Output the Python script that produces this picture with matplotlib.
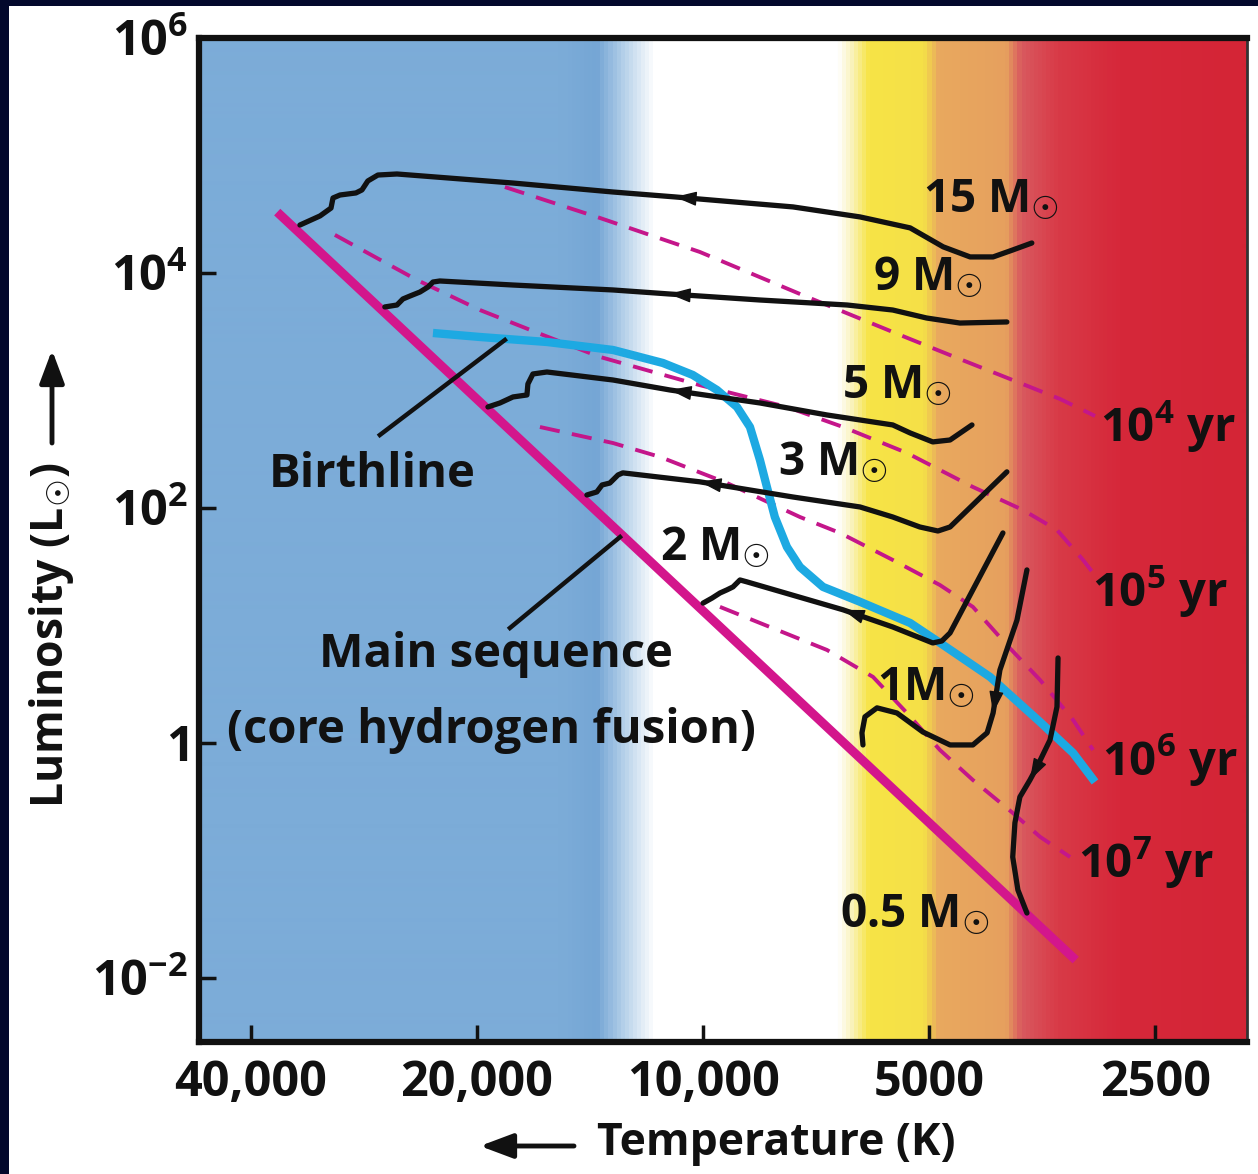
import numpy as np
import matplotlib
matplotlib.use('Agg')
import matplotlib.pyplot as plt
from matplotlib.colors import LinearSegmentedColormap
from matplotlib.patches import Rectangle
from matplotlib.ticker import NullLocator, FixedLocator, FixedFormatter

plt.rcParams['font.family'] = ['Open Sans', 'DejaVu Sans']
plt.rcParams['font.weight'] = 'bold'
plt.rcParams['mathtext.fontset'] = 'custom'
plt.rcParams['mathtext.rm'] = 'DejaVu Sans'
plt.rcParams['mathtext.bf'] = 'Open Sans:bold'
plt.rcParams['mathtext.it'] = 'Open Sans:bold'
plt.rcParams['mathtext.sf'] = 'Open Sans:bold'

# ---------------- data (Temperature in K, Luminosity in L_sun) ----------------
x_ticks = [40000, 20000, 10000, 5000, 2500]
x_tick_labels = ['40,000', '20,000', '10,000', '5000', '2500']
y_ticks = [1e-2, 1, 1e2, 1e4, 1e6]
y_tick_labels = [r'$\mathbf{10^{-2}}$', r'$\mathbf{1}$', r'$\mathbf{10^{2}}$',
                 r'$\mathbf{10^{4}}$', r'$\mathbf{10^{6}}$']

# main sequence (ZAMS)
ms_T = [36900, 3190]
ms_L = [33000, 0.0142]

# birthline
bl_T = [22890, 19820, 16140, 13180, 11310, 10320, 9584, 9013, 8661, 8400, 8223,
        8025, 7733, 7431, 6924, 6180, 5300, 4790, 4149, 3559, 3216, 3007]
bl_L = [3086, 2853, 2587, 2212, 1714, 1355, 1010, 724, 489, 256, 151,
        83.8, 46.6, 31.5, 21.3, 15.9, 10.5, 6.82, 3.65, 1.51, 0.822, 0.466]

# evolutionary tracks
t15_T = [34420, 32360, 31290, 31100, 30440, 28990, 28460, 27950, 27100, 25560, 17910,
         13180, 10900, 10100, 7590, 6180, 5300, 4790, 4410, 4110, 3870, 3650]
t15_L = [25600, 30600, 35700, 43500, 46100, 48000, 50900, 60700, 68200, 69600, 58300,
         48900, 44400, 42600, 36500, 30000, 24200, 16700, 13700, 13700, 15700, 18000]
t9_T = [26530, 25560, 25100, 24560, 23820, 23240, 22890, 22410, 17910, 13180, 11100,
        10100, 8400, 6430, 5590, 5040, 4550, 3940]
t9_L = [5140, 5340, 6010, 6370, 6890, 7600, 8380, 8550, 7900, 7170, 6630,
        6370, 5890, 5340, 4840, 4140, 3750, 3830]
t5_T = [19340, 18640, 17910, 17160, 17110, 16850, 16140, 13180, 11070, 8400, 6840,
        5590, 5300, 4945, 4690, 4385]
t5_L = [724, 783, 881, 916, 1136, 1382, 1437, 1228, 1010, 783, 619,
        509, 435, 365, 379, 509]
t3_T = [14280, 13850, 13630, 13310, 12980, 12790, 10100, 7590, 6180, 5590, 5145,
        4867, 4690, 3940]
t3_L = [129, 137, 157, 163, 191, 199, 167, 124, 102, 83.8, 68.9, 63.7, 68.9, 203]
t2_T = [10000, 9730, 9495, 9293, 9123, 8930, 8741, 6511, 5590, 4945, 4809, 4690, 3988]
t2_L = [15.5, 17.1, 18.9, 20.1, 21.3, 24.4, 23.5, 13.6, 9.71, 7.10, 7.38, 8.64, 61.3]
t1_T = [3705, 3820, 4025, 4110, 4186, 4373, 4690, 5097, 5519, 5867, 6088, 6144, 6125]
t1_L = [29.7, 11.1, 4.18, 1.80, 1.22, 0.962, 0.962, 1.24, 1.80, 1.99, 1.67, 1.22, 0.962]
t05_T = [3368, 3379, 3452, 3593, 3671, 3786, 3844, 3870, 3809, 3705]
t05_L = [5.29, 2.03, 1.06, 0.625, 0.484, 0.347, 0.209, 0.107, 0.0561, 0.0357]

# arrow (head index, tail index) on each track
arrows_15 = (12, 13)
arrows_9 = (10, 11)
arrows_5 = (8, 9)
arrows_3 = (6, 7)
arrows_2 = (7, 8)
arrows_1 = (3, 2)
arrows_05 = (4, 3)

# isochrones
iso4_T = [18360, 13720, 10100, 7431, 5468, 4550, 3786, 3348, 3007]
iso4_L = [53900, 29400, 15100, 6630, 2970, 1850, 1160, 847, 607]
iso5_T = [30920, 27180, 24040, 19820, 16340, 13720, 10100, 7733, 6511, 5353, 4373,
          3751, 3379, 3119, 3025]
iso5_L = [21100, 13400, 8720, 4840, 2970, 1930, 1110, 724, 489, 294, 151,
          96.2, 65.0, 36.1, 28.0]
iso6_T = [16490, 13180, 11410, 9293, 7431, 6572, 5590, 4838, 4373, 3940, 3559, 3216, 3025]
iso6_L = [489, 357, 272, 163, 83.8, 61.3, 36.1, 22.1, 14.4, 6.82, 3.44, 1.57, 0.872]
iso7_T = [9495, 8400, 6840, 5939, 5353, 4838, 4373, 3870, 3559, 3246]
iso7_L = [14.4, 10.5, 6.19, 3.65, 1.80, 0.872, 0.484, 0.254, 0.159, 0.107]

# label pointer lines
ptr_birth_T = [18360, 26940]
ptr_birth_L = [2691, 418]
ptr_ms_T = [12900, 18080]
ptr_ms_L = [56.6, 9.52]

track_labels = ['15 M$_{☉}$', '9 M$_{☉}$', '5 M$_{☉}$', '3 M$_{☉}$',
                '2 M$_{☉}$', '1M$_{☉}$', '0.5 M$_{☉}$']
iso_labels = [r'$\mathbf{10^{4}}$ yr', r'$\mathbf{10^{5}}$ yr',
              r'$\mathbf{10^{6}}$ yr', r'$\mathbf{10^{7}}$ yr']

# ---------------- figure ----------------
W, H = 1258, 1174
fig = plt.figure(figsize=(W / 100, H / 100), dpi=100)
fig.patch.set_facecolor('white')
navy = '#03082c'
fig.add_artist(Rectangle((0, 0), 9 / W, 1, transform=fig.transFigure,
                         facecolor=navy, edgecolor='none', zorder=-5))
fig.add_artist(Rectangle((0, 1 - 6 / H), 1, 6 / H, transform=fig.transFigure,
                         facecolor=navy, edgecolor='none', zorder=-5))

rect = [199 / W, 1 - 1042 / H, 1048 / W, 1004 / H]

# background colour gradient (spectral colours)
bg = fig.add_axes(rect, zorder=-1)
stops = [(0.0, '#7CACD8'), (0.345, '#7CACD8'), (0.380, '#75A6D5'), (0.405, '#B6D1EA'),
         (0.435, '#FFFFFF'), (0.610, '#FFFFFF'), (0.623, '#FAF3BE'), (0.640, '#F7E446'),
         (0.693, '#F5E048'), (0.706, '#E9A95F'), (0.772, '#E6A05E'), (0.786, '#D9595F'),
         (0.822, '#D83A47'), (0.880, '#D6283A'), (1.0, '#D42536')]
cmap = LinearSegmentedColormap.from_list('bgspec', stops)
bg.imshow(np.linspace(0, 1, 1048)[None, :], cmap=cmap, aspect='auto',
          extent=(0, 1, 0, 1), interpolation='bilinear')
bg.set_xlim(0, 1)
bg.set_ylim(0, 1)
bg.axis('off')

ax = fig.add_axes(rect)
ax.set_facecolor('none')
ax.set_xscale('log')
ax.set_yscale('log')
ax.set_xlim(46900, 1887)
ax.set_ylim(10 ** -2.545, 1e6)

ax.xaxis.set_major_locator(FixedLocator(x_ticks))
ax.xaxis.set_major_formatter(FixedFormatter(x_tick_labels))
ax.yaxis.set_major_locator(FixedLocator(y_ticks))
ax.yaxis.set_major_formatter(FixedFormatter(y_tick_labels))
ax.xaxis.set_minor_locator(NullLocator())
ax.yaxis.set_minor_locator(NullLocator())
ax.tick_params(axis='both', which='major', direction='in', length=12, width=2.5,
               color='#111111', labelcolor='#111111')
ax.tick_params(axis='x', labelsize=35, pad=12)
ax.tick_params(axis='y', labelsize=35, pad=8)
for lab in ax.get_xticklabels():
    lab.set_fontweight('bold')
for side in ['left', 'top', 'bottom']:
    ax.spines[side].set_linewidth(4.5)
    ax.spines[side].set_color('#111111')
ax.spines['right'].set_linewidth(2.0)
ax.spines['right'].set_color('#333333')

magenta = '#D3168C'
dash_col = '#C4168A'
cyan = '#1DA9E2'
black = '#111111'

# isochrones
for iT, iL in [(iso4_T, iso4_L), (iso5_T, iso5_L), (iso6_T, iso6_L), (iso7_T, iso7_L)]:
    ax.plot(iT, iL, color=dash_col, lw=2.8, ls=(0, (5.2, 3.2)), zorder=2)

# main sequence
ax.plot(ms_T, ms_L, color=magenta, lw=6.5, solid_capstyle='butt', zorder=3)

# birthline
ax.plot(bl_T, bl_L, color=cyan, lw=6, solid_capstyle='butt', zorder=3)

# tracks
tracks = [(t15_T, t15_L, arrows_15), (t9_T, t9_L, arrows_9), (t5_T, t5_L, arrows_5),
          (t3_T, t3_L, arrows_3), (t2_T, t2_L, arrows_2), (t1_T, t1_L, arrows_1),
          (t05_T, t05_L, arrows_05)]
for tT, tL, (hd, tl) in tracks:
    ax.plot(tT, tL, color=black, lw=3.8, solid_joinstyle='round',
            solid_capstyle='round', zorder=4)
    ax.annotate('', xy=(tT[hd], tL[hd]), xytext=(tT[tl], tL[tl]),
                arrowprops=dict(arrowstyle='-|>,head_length=0.9,head_width=0.3',
                                color=black, lw=1.0, shrinkA=0, shrinkB=0,
                                mutation_scale=15), zorder=5)

# pointer lines
ax.plot(ptr_birth_T, ptr_birth_L, color=black, lw=3.2, zorder=5)
ax.plot(ptr_ms_T, ptr_ms_L, color=black, lw=3.2, zorder=5)

# labels (left, baseline in axes fraction)
track_label_pos = [(0.6908, 0.8267), (0.6431, 0.7490), (0.6135, 0.6414), (0.5525, 0.5647),
                   (0.4399, 0.4801), (0.6469, 0.3406), (0.6116, 0.1145)]
for txt, (fx, fy) in zip(track_labels, track_label_pos):
    ax.text(fx, fy, txt, transform=ax.transAxes, fontsize=33, fontweight='bold',
            ha='left', va='baseline', color=black, zorder=6)
iso_label_pos = [(0.8597, 0.5976), (0.8521, 0.4333), (0.8616, 0.2659), (0.8387, 0.1633)]
for txt, (fx, fy) in zip(iso_labels, iso_label_pos):
    ax.text(fx, fy, txt, transform=ax.transAxes, fontsize=34, fontweight='bold',
            ha='left', va='baseline', color=black, zorder=6)

ax.text(0.0668, 0.5528, 'Birthline', transform=ax.transAxes, fontsize=34,
        fontweight='bold', ha='left', va='baseline', color=black, zorder=6)
ax.text(0.1145, 0.3735, 'Main sequence', transform=ax.transAxes, fontsize=34,
        fontweight='bold', ha='left', va='baseline', color=black, zorder=6)
ax.text(0.0267, 0.2978, '(core hydrogen fusion)', transform=ax.transAxes, fontsize=34,
        fontweight='bold', ha='left', va='baseline', color=black, zorder=6)

# axis labels with arrows
fig.text(52 / W, 1 - 635 / H, 'Luminosity (L$_{☉}$)', rotation=90, fontsize=32,
         fontweight='bold', ha='center', va='center', color=black)
ax.annotate('', xy=(52 / W, 1 - 350 / H), xytext=(52 / W, 1 - 443 / H),
            xycoords='figure fraction', textcoords='figure fraction',
            arrowprops=dict(arrowstyle='-|>,head_length=0.8,head_width=0.3',
                            mutation_scale=25, color=black, lw=3.5,
                            shrinkA=0, shrinkB=0), annotation_clip=False)
fig.text(776 / W, 1 - 1143 / H, 'Temperature (K)', fontsize=32, fontweight='bold',
         ha='center', va='center', color=black)
ax.annotate('', xy=(480 / W, 1 - 1146 / H), xytext=(574 / W, 1 - 1146 / H),
            xycoords='figure fraction', textcoords='figure fraction',
            arrowprops=dict(arrowstyle='-|>,head_length=0.8,head_width=0.3',
                            mutation_scale=25, color=black, lw=3.5,
                            shrinkA=0, shrinkB=0), annotation_clip=False)

fig.savefig('out.png', dpi=100, facecolor=fig.get_facecolor())
